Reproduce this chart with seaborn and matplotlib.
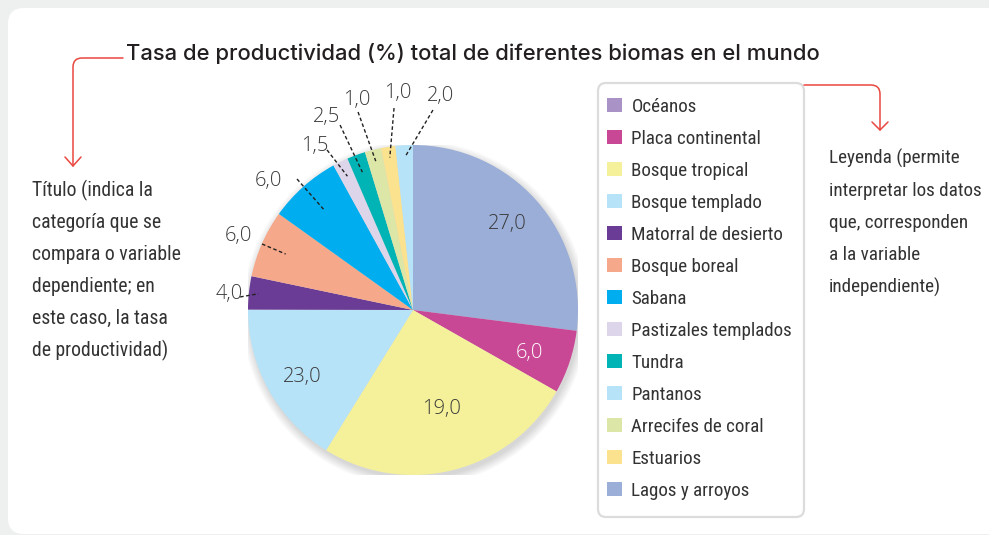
import matplotlib
matplotlib.use("Agg")
import matplotlib.pyplot as plt
import seaborn as sns
import numpy as np
from matplotlib import font_manager as fm
from matplotlib.patches import FancyBboxPatch, Patch, Circle, PathPatch
from matplotlib.path import Path

# ---------------- data ----------------
title = "Tasa de productividad (%) total de diferentes biomas en el mundo"

legend_biomes = ["Océanos", "Placa continental", "Bosque tropical", "Bosque templado",
                 "Matorral de desierto", "Bosque boreal", "Sabana", "Pastizales templados",
                 "Tundra", "Pantanos", "Arrecifes de coral", "Estuarios", "Lagos y arroyos"]
legend_colors = ["#A993C6", "#C94895", "#F5F19A", "#B7E3F8", "#6A3C96", "#F6A98A", "#00AEEF",
                 "#DDD6EA", "#00B4B6", "#B7E3F8", "#DCE6A6", "#FBE28E", "#9AAED8"]

# slices in drawing order (clockwise from 12 o'clock)
slice_biomes = ["Lagos y arroyos", "Placa continental", "Bosque tropical", "Bosque templado",
                "Matorral de desierto", "Bosque boreal", "Sabana", "Pastizales templados",
                "Tundra", "Arrecifes de coral", "Estuarios", "Pantanos"]
# values printed on the slices
printed_pct = [27.0, 6.0, 19.0, 23.0, 4.0, 6.0, 6.0, 1.5, 2.5, 1.0, 1.0, 2.0]
# angular share of each slice as drawn in the picture (%)
drawn_share = [27.0, 6.2, 25.6, 16.2, 3.25, 6.6, 7.1, 1.5, 1.8, 1.6, 1.4, 1.7]

left_note = ["Título (indica la", "categoría que se", "compara o variable",
             "dependiente; en", "este caso, la tasa", "de productividad)"]
right_note = ["Leyenda (permite", "interpretar los datos", "que, corresponden",
              "a la variable", "independiente)"]

# ---------------- styling / layout ----------------
sns.set_style("white")
plt.rcParams["font.family"] = ["DejaVu Sans"]

names = {f.name for f in fm.fontManager.ttflist}
cond = {"family": "DejaVu Sans"}
found = False
for cand in ["Liberation Sans Narrow", "Roboto Condensed", "Noto Sans Condensed",
             "Open Sans Condensed", "DejaVu Sans Condensed"]:
    if cand in names:
        cond = {"family": cand}
        found = True
        break
if not found:
    for fam in ["Noto Sans", "Roboto", "Open Sans", "DejaVu Sans"]:
        st = [f for f in fm.fontManager.ttflist
              if f.name == fam and str(f.stretch) in ("condensed", "semi-condensed", "extra-condensed")
              and f.style == "normal" and f.weight in (400, "normal", "regular")]
        if st:
            cond = {"family": fam, "stretch": st[0].stretch}
            break

title_font = "Inter" if "Inter" in names else ("Roboto" if "Roboto" in names else "DejaVu Sans")
label_font = "Open Sans" if "Open Sans" in names else "DejaVu Sans"

RED = "#E9473F"
TXT = "#333333"

W, H = 989, 535
fig = plt.figure(figsize=(W / 100, H / 100), dpi=100, facecolor="#EEF0EF")
bg = fig.add_axes([0, 0, 1, 1])
bg.set_xlim(0, W)
bg.set_ylim(H, 0)
bg.axis("off")

# white card
bg.add_patch(FancyBboxPatch((8, 8), 1200, 526, boxstyle="round,pad=0,rounding_size=16",
                            fc="white", ec="none", zorder=0))

renderer = fig.canvas.get_renderer()


def fit(t, target):
    w = t.get_window_extent(renderer).width
    t.set_fontsize(t.get_fontsize() * target / w)
    return t.get_fontsize()


# title
tt = bg.text(126, 60, title, fontsize=15, family=title_font, weight="medium",
             color="#231F20", ha="left", va="baseline", zorder=3)
fit(tt, 695)

# red annotation lines
def red_path(verts, codes):
    bg.add_patch(PathPatch(Path(verts, codes), fc="none", ec=RED, lw=1.1, zorder=3,
                           capstyle="round", joinstyle="round"))

red_path([(123, 58), (82, 58), (73, 58), (73, 67), (73, 166)],
         [Path.MOVETO, Path.LINETO, Path.CURVE3, Path.CURVE3, Path.LINETO])
red_path([(65, 157), (73, 166), (81, 157)], [Path.MOVETO, Path.LINETO, Path.LINETO])
red_path([(804, 85), (871, 85), (880, 85), (880, 94), (880, 130)],
         [Path.MOVETO, Path.LINETO, Path.CURVE3, Path.CURVE3, Path.LINETO])
red_path([(872, 122), (880, 130), (888, 122)], [Path.MOVETO, Path.LINETO, Path.LINETO])

# side notes
lt = [bg.text(32, 196 + 32 * i, s, color=TXT, ha="left", va="baseline", fontsize=14, **cond)
      for i, s in enumerate(left_note)]
fs_l = fit(lt[2], 150)
for t in lt:
    t.set_fontsize(fs_l)
rbase = [164, 196, 228, 260, 293]
rt = [bg.text(829, rbase[i], s, color=TXT, ha="left", va="baseline", fontsize=14, **cond)
      for i, s in enumerate(right_note)]
fs_r = fit(rt[1], 154)
for t in rt:
    t.set_fontsize(fs_r)

# legend
bg.add_patch(FancyBboxPatch((598, 83), 206, 434, boxstyle="round,pad=0,rounding_size=8",
                            fc="white", ec="#DCDCDC", lw=1.6, zorder=1))
tmp = bg.text(0, 0, "Pastizales templados", fontsize=14, **cond)
fs_leg = fit(tmp, 162)
tmp.remove()
handles = [Patch(facecolor=c, edgecolor="none") for c in legend_colors]
prop = fm.FontProperties(size=fs_leg, **cond)
sq = 15 * 0.72 / fs_leg
ls = 0.4
for it in range(3):
    leg = bg.legend(handles, legend_biomes, loc="upper left", bbox_to_anchor=(600, 90),
                    bbox_transform=bg.transData, frameon=False, prop=prop,
                    handlelength=sq, handleheight=sq, handletextpad=0.5,
                    labelspacing=ls, borderpad=0, borderaxespad=0)
    for t in leg.get_texts():
        t.set_color(TXT)
    fig.canvas.draw()
    ex = [t.get_window_extent(renderer) for t in leg.get_texts()]
    step = (ex[0].y0 - ex[-1].y0) / 12.0
    ls += (32 - step) / (fs_leg * 100 / 72)
# final placement: align first handle with the reference
fig.canvas.draw()
hx = [h.get_window_extent(renderer) for h in leg.legend_handles]
dx = 607 - hx[0].x0
first_c = H - (hx[0].y0 + hx[0].y1) / 2
dy = 105 - first_c
leg.set_bbox_to_anchor((600 + dx, 90 + dy), transform=bg.transData)
leg.set_zorder(4)

# pie
cx, cy, R = 413, 310, 165
pie_ax = fig.add_axes([(cx - R) / W, (H - cy - R) / H, 2 * R / W, 2 * R / H])
color_of = dict(zip(legend_biomes, legend_colors))
slice_colors = [color_of[b] for b in slice_biomes]
for k in range(8):
    pie_ax.add_patch(Circle((0.012, -0.022), 1.0 + 0.007 * k, fc="#000000", alpha=0.02,
                            lw=0, zorder=0))
wedges, _ = pie_ax.pie(drawn_share, colors=slice_colors, startangle=90, counterclock=False,
                       radius=1, wedgeprops=dict(linewidth=0, zorder=2))
pie_ax.set_xlim(-1, 1)
pie_ax.set_ylim(-1, 1)
pie_ax.axis("off")


def fmt(v):
    return f"{v:.1f}".replace(".", ",")


# inside labels (slice index, x, y, colour)
inside = [(0, 0.573, 0.524, "#3A3A3A"), (1, 0.706, -0.261, "white"),
          (2, 0.173, -0.603, "#3A3A3A"), (3, -0.673, -0.409, "#3A3A3A")]
lab_texts = []
for i, x, y, c in inside:
    lab_texts.append(pie_ax.text(x, y, fmt(printed_pct[i]), ha="center", va="center",
                                 color=c, fontsize=14, family=label_font, weight="light",
                                 zorder=5))
fs_p = fit(lab_texts[0], 39)
for t in lab_texts:
    t.set_fontsize(fs_p)

# outside labels: slice index, text centre, leader outer end, leader inner radius
outside = [(4, (-1.115, 0.097), (-1.048, 0.079), 0.942),
           (5, (-1.055, 0.448), (-0.915, 0.400), 0.843),
           (6, (-0.879, 0.779), (-0.703, 0.794), 0.817),
           (7, (-0.594, 0.994), (-0.521, 0.970), 0.903),
           (8, (-0.521, 1.170), (-0.442, 1.121), 0.890),
           (9, (-0.339, 1.273), (-0.333, 1.200), 0.930),
           (10, (-0.091, 1.315), (-0.115, 1.224), 0.935),
           (11, (0.170, 1.297), (0.121, 1.212), 0.927)]
for i, tpos, opos, r in outside:
    w = wedges[i]
    th = np.deg2rad((w.theta1 + w.theta2) / 2)
    ix, iy = r * np.cos(th), r * np.sin(th)
    pie_ax.plot([opos[0], ix], [opos[1], iy], ls=(0, (2.6, 1.8)), color="#222222", lw=1.0,
                clip_on=False, zorder=5)
    pie_ax.text(tpos[0], tpos[1], fmt(printed_pct[i]), ha="center", va="center",
                color="#3A3A3A", fontsize=fs_p, family=label_font, weight="light",
                clip_on=False, zorder=5)

fig.savefig("out.png", dpi=100, facecolor=fig.get_facecolor())
